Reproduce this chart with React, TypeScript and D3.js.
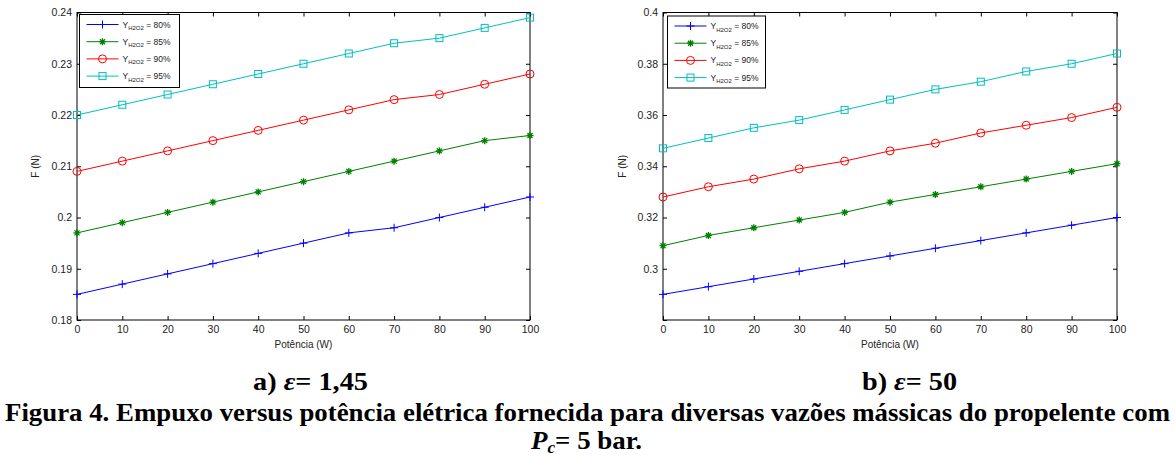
import React from "react";
import * as d3 from "d3";

// potência (W)
const power = [0, 10, 20, 30, 40, 50, 60, 70, 80, 90, 100];

// a) eps = 1,45
const a80 = [0.185, 0.187, 0.189, 0.191, 0.193, 0.195, 0.197, 0.198, 0.2, 0.202, 0.204];
const a85 = [0.197, 0.199, 0.201, 0.203, 0.205, 0.207, 0.209, 0.211, 0.213, 0.215, 0.216];
const a90 = [0.209, 0.211, 0.213, 0.215, 0.217, 0.219, 0.221, 0.223, 0.224, 0.226, 0.228];
const a95 = [0.22, 0.222, 0.224, 0.226, 0.228, 0.23, 0.232, 0.234, 0.235, 0.237, 0.239];

// b) eps = 50
const b80 = [0.29, 0.293, 0.296, 0.299, 0.302, 0.305, 0.308, 0.311, 0.314, 0.317, 0.32];
const b85 = [0.309, 0.313, 0.316, 0.319, 0.322, 0.326, 0.329, 0.332, 0.335, 0.338, 0.341];
const b90 = [0.328, 0.332, 0.335, 0.339, 0.342, 0.346, 0.349, 0.353, 0.356, 0.359, 0.363];
const b95 = [0.347, 0.351, 0.355, 0.358, 0.362, 0.366, 0.37, 0.373, 0.377, 0.38, 0.384];

const legendLabels = ["80%", "85%", "90%", "95%"];
const aTicks = [0.18, 0.19, 0.2, 0.21, 0.22, 0.23, 0.24];
const aTickLabels = ["0.18", "0.19", "0.2", "0.21", "0.22", "0.23", "0.24"];
const bTicks = [0.28, 0.3, 0.32, 0.34, 0.36, 0.38, 0.4];
const bTickLabels = ["", "0.3", "0.32", "0.34", "0.36", "0.38", "0.4"];

const colors = ["#0000ff", "#008000", "#ff0000", "#00bfbf"];
const markers = ["plus", "star", "circle", "square"];

const sans = "Liberation Sans";
const serif = "Liberation Serif";

function drawMarker(g, kind, x, y, color) {
  if (kind === "plus") {
    g.append("path").attr("d", `M${x - 4},${y}H${x + 4}M${x},${y - 4}V${y + 4}`)
      .attr("stroke", color).attr("stroke-width", 1);
  } else if (kind === "star") {
    g.append("path")
      .attr("d", `M${x - 3.5},${y}H${x + 3.5}M${x},${y - 3.5}V${y + 3.5}M${x - 2.5},${y - 2.5}L${x + 2.5},${y + 2.5}M${x - 2.5},${y + 2.5}L${x + 2.5},${y - 2.5}`)
      .attr("stroke", color).attr("stroke-width", 1.3);
  } else if (kind === "circle") {
    g.append("circle").attr("cx", x).attr("cy", y).attr("r", 4)
      .attr("fill", "none").attr("stroke", color).attr("stroke-width", 1);
  } else {
    g.append("rect").attr("x", x - 3.5).attr("y", y - 3.5).attr("width", 7).attr("height", 7)
      .attr("fill", "none").attr("stroke", color).attr("stroke-width", 1);
  }
}

function drawPanel(svg, cfg) {
  const { left, right, top, bottom, domain, ticks, tickLabels, series, legend } = cfg;
  const x = d3.scaleLinear().domain([0, 100]).range([left, right]);
  const y = d3.scaleLinear().domain(domain).range([bottom, top]);
  const g = svg.append("g");

  // box
  g.append("rect").attr("x", left).attr("y", top).attr("width", right - left).attr("height", bottom - top)
    .attr("fill", "white").attr("stroke", "black").attr("stroke-width", 1);

  const styleAxis = (ax) => {
    ax.select(".domain").remove();
    ax.selectAll("line").attr("stroke", "black");
    ax.selectAll("text").style("font-family", sans).style("font-size", "10.5px").attr("fill", "#222");
  };

  const xb = g.append("g").attr("transform", `translate(0,${bottom})`)
    .call(d3.axisBottom(x).tickValues(power).tickSizeInner(-4).tickSizeOuter(0).tickPadding(6).tickFormat(d3.format("d")));
  styleAxis(xb);
  const xt = g.append("g").attr("transform", `translate(0,${top})`)
    .call(d3.axisTop(x).tickValues(power).tickSizeInner(-4).tickSizeOuter(0).tickFormat(() => ""));
  styleAxis(xt);
  const yl = g.append("g").attr("transform", `translate(${left},0)`)
    .call(d3.axisLeft(y).tickValues(ticks).tickSizeInner(-4).tickSizeOuter(0).tickPadding(5)
      .tickFormat((d, i) => tickLabels[i]));
  styleAxis(yl);
  const yr = g.append("g").attr("transform", `translate(${right},0)`)
    .call(d3.axisRight(y).tickValues(ticks).tickSizeInner(-4).tickSizeOuter(0).tickFormat(() => ""));
  styleAxis(yr);

  const line = d3.line().x((d, i) => x(power[i])).y((d) => y(d));
  series.forEach((s, k) => {
    g.append("path").datum(s).attr("d", line).attr("fill", "none")
      .attr("stroke", colors[k]).attr("stroke-width", 1);
    s.forEach((v, i) => drawMarker(g, markers[k], x(power[i]), y(v), colors[k]));
  });

  // axis titles
  g.append("text").attr("x", (left + right) / 2).attr("y", bottom + 28).attr("text-anchor", "middle")
    .style("font-family", sans).style("font-size", "10px").attr("fill", "#222").text("Potência (W)");
  g.append("text").attr("transform", `translate(${cfg.yTitleX},${(top + bottom) / 2}) rotate(-90)`)
    .attr("text-anchor", "middle").style("font-family", sans).style("font-size", "10px").attr("fill", "#222").text("F (N)");

  // legend
  const lg = g.append("g");
  lg.append("rect").attr("x", legend.x).attr("y", legend.y).attr("width", legend.w).attr("height", legend.h)
    .attr("fill", "white").attr("stroke", "black").attr("stroke-width", 1);
  legendLabels.forEach((lab, k) => {
    const ly = legend.y + 10 + k * 17.2;
    const lx = legend.x + 7;
    lg.append("line").attr("x1", lx).attr("x2", lx + 32).attr("y1", ly).attr("y2", ly)
      .attr("stroke", colors[k]).attr("stroke-width", 1);
    drawMarker(lg, markers[k], lx + 16, ly, colors[k]);
    const t = lg.append("text").attr("x", lx + 36).attr("y", ly + 3)
      .style("font-family", sans).style("font-size", "8.5px").attr("fill", "#222");
    t.append("tspan").text("Y");
    t.append("tspan").style("font-size", "6px").attr("dy", 2.5).text("H2O2");
    t.append("tspan").attr("dy", -2.5).text(` = ${lab}`);
  });
}

export default function App() {
  const ref = React.useRef(null);

  React.useEffect(() => {
    const svg = d3.select(ref.current);
    svg.selectAll("*").remove();

    drawPanel(svg, {
      left: 77, right: 530, top: 12.5, bottom: 320,
      domain: [0.18, 0.24], ticks: aTicks, tickLabels: aTickLabels,
      series: [a80, a85, a90, a95], yTitleX: 39,
      legend: { x: 79.5, y: 14.5, w: 100, h: 73 },
    });
    drawPanel(svg, {
      left: 663, right: 1117, top: 12.5, bottom: 320,
      domain: [0.28, 0.4], ticks: bTicks, tickLabels: bTickLabels,
      series: [b80, b85, b90, b95], yTitleX: 626,
      legend: { x: 667.5, y: 16, w: 98, h: 72 },
    });

    const capText = (x, y, len) => {
      const t = svg.append("text").attr("x", x).attr("y", y)
        .style("font-family", serif).style("font-weight", "bold").style("font-size", "25px").attr("fill", "black");
      if (len) t.attr("textLength", len).attr("lengthAdjust", "spacingAndGlyphs");
      return t;
    };

    const a = capText(253, 390, 115);
    a.append("tspan").text("a) ");
    a.append("tspan").style("font-style", "italic").text("ε");
    a.append("tspan").text("= 1,45");

    const b = capText(862, 390, 95);
    b.append("tspan").text("b) ");
    b.append("tspan").style("font-style", "italic").text("ε");
    b.append("tspan").text("= 50");

    capText(5, 421, 1165)
      .text("Figura 4. Empuxo versus potência elétrica fornecida para diversas vazões mássicas do propelente com");

    const p = capText(531, 449, 111);
    p.append("tspan").style("font-style", "italic").text("P");
    p.append("tspan").style("font-style", "italic").style("font-size", "16px").attr("dy", 4).text("c");
    p.append("tspan").attr("dy", -4).text("= 5 bar.");
  }, []);

  return (
    <svg ref={ref} width={1175} height={457} style={{ position: "absolute", left: 0, top: 0, background: "white" }} />
  );
}
